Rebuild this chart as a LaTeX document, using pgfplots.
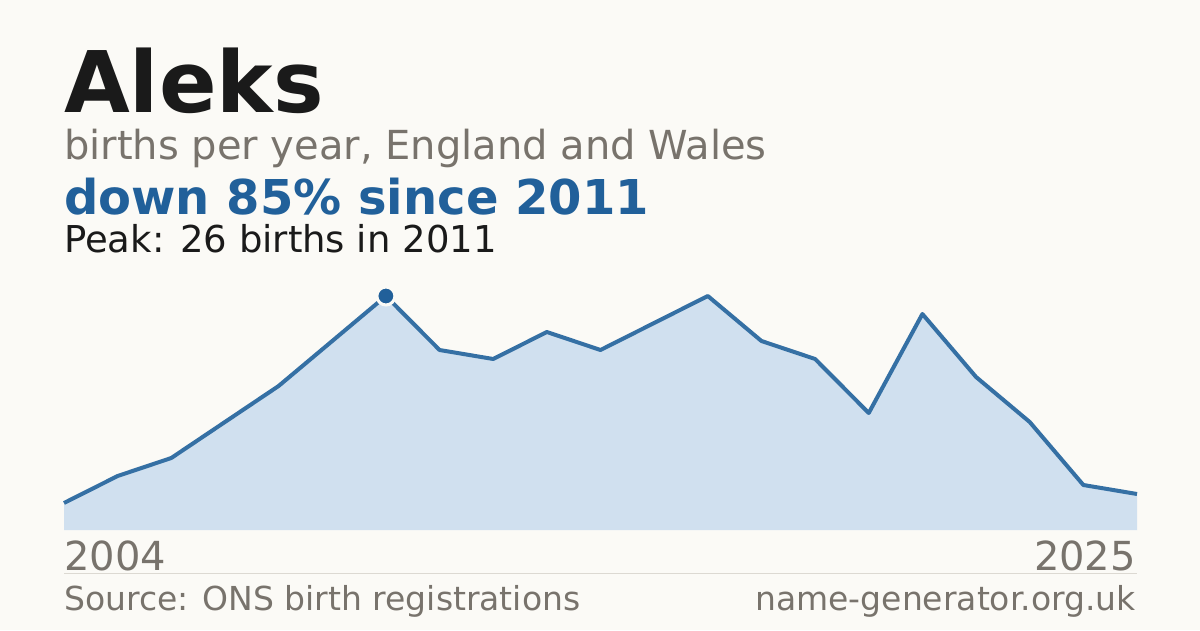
\documentclass[border=0pt]{standalone}
\usepackage{pgfplots}
\pgfplotsset{compat=1.18}
\usepackage{pgfplotstable}
\usepackage{fontspec}
\setmainfont{DejaVu Sans}

\definecolor{bg}{HTML}{FBFAF6}
\definecolor{ink}{HTML}{1A1A1A}
\definecolor{muted}{HTML}{78736C}
\definecolor{accent}{HTML}{21609A}
\definecolor{areafill}{HTML}{D0E0EF}
\definecolor{linec}{HTML}{3570A4}
\definecolor{rulec}{HTML}{DCD9D2}

% births per year, one row per plotted point (first = 2004, last = 2025)
\pgfplotstableread{
idx births
0  3
1  6
2  8
3  12
4  16
5  21
6  26
7  20
8  19
9  22
10 20
11 23
12 26
13 21
14 19
15 13
16 24
17 17
18 12
19 5
20 4
}\births

\begin{document}
\begin{tikzpicture}[x=1pt,y=1pt]
\fill[bg] (0,0) rectangle (1200,630);

% heading block
\node[anchor=base west,inner sep=0,text=ink] at (64,517)
  {\fontsize{85}{85}\selectfont\bfseries Aleks};
\node[anchor=base west,inner sep=0,text=muted] at (64,470)
  {\fontsize{40}{40}\selectfont births per year, England and Wales};
\node[anchor=base west,inner sep=0,text=accent] at (64,415)
  {\fontsize{48}{48}\selectfont\bfseries down 85\% since 2011};
\node[anchor=base west,inner sep=0,text=ink] at (64,377.3)
  {\fontsize{37}{37}\selectfont Peak: 26 births in 2011};

\begin{axis}[
    at={(64pt,100pt)}, anchor=south west,
    scale only axis,
    width=1073pt, height=234pt,
    xmin=0, xmax=20,
    ymin=0, ymax=26,
    hide axis,
    clip=false,
]
\addplot[fill=areafill, draw=none] table[x=idx,y=births]{\births} \closedcycle;
\addplot[linec, line width=4pt, line join=round] table[x=idx,y=births]{\births};
\addplot[only marks, mark=*, mark size=9pt,
    mark options={fill=accent, draw=bg, line width=3pt}] coordinates {(6,26)};
\end{axis}

% year range and footer
\node[anchor=base west,inner sep=0,text=muted] at (64,59.3)
  {\fontsize{40}{40}\selectfont 2004};
\node[anchor=base east,inner sep=0,text=muted] at (1136,59.3)
  {\fontsize{40}{40}\selectfont 2025};
\draw[rulec, line width=1pt] (64,56.5) -- (1137,56.5);
\node[anchor=base west,inner sep=0,text=muted] at (64,20)
  {\fontsize{33}{33}\selectfont Source: ONS birth registrations};
\node[anchor=base east,inner sep=0,text=muted] at (1136,20)
  {\fontsize{33}{33}\selectfont name-generator.org.uk};
\end{tikzpicture}
\end{document}
